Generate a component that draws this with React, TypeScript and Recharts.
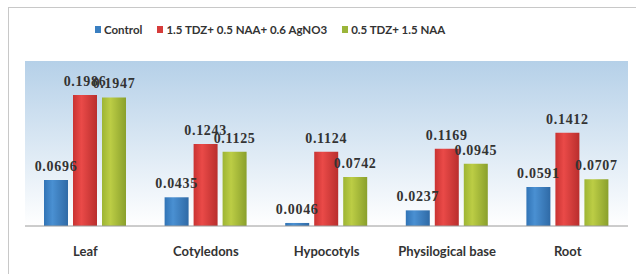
import { BarChart, Bar, XAxis, YAxis, LabelList, ReferenceArea } from 'recharts'

const categories = ['Leaf', 'Cotyledons', 'Hypocotyls', 'Physilogical base', 'Root']
const control = [0.0696, 0.0435, 0.0046, 0.0237, 0.0591]
const agno3 = [0.1986, 0.1243, 0.1124, 0.1169, 0.1412]
const tdzNaa = [0.1947, 0.1125, 0.0742, 0.0945, 0.0707]

const seriesNames = ['Control', '1.5 TDZ+ 0.5 NAA+ 0.6 AgNO3', '0.5 TDZ+ 1.5 NAA']

const data = categories.map((name, i) => ({
  name,
  control: control[i],
  agno3: agno3[i],
  tdzNaa: tdzNaa[i],
}))

const labelFont = { fontFamily: '"Liberation Serif", serif', fontSize: 14, fontWeight: 700, fill: '#333', letterSpacing: 0.7 }
const sans = 'Lato, "Open Sans", sans-serif'

function LegendBox() {
  const items = [
    { name: seriesNames[0], color: '#3a7fc1' },
    { name: seriesNames[1], color: '#d63c3b' },
    { name: seriesNames[2], color: '#9bb53a' },
  ]
  return (
    <div style={{ display: 'flex', gap: 15, fontFamily: sans, fontSize: 11.5, fontWeight: 700, color: '#333' }}>
      {items.map(it => (
        <span key={it.name} style={{ display: 'flex', alignItems: 'center' }}>
          <span style={{ width: 6, height: 7, background: it.color, marginRight: 3, display: 'inline-block' }} />
          {it.name}
        </span>
      ))}
    </div>
  )
}

export default function App() {
  return (
    <div style={{ position: 'fixed', left: 0, top: 0, width: 636, height: 274, background: '#fff', overflow: 'hidden' }}>
      <div style={{ position: 'absolute', left: 8, top: 7, width: 700, height: 400, border: '1px solid #c8c8c8' }} />
      <div style={{ position: 'absolute', left: 95, top: 23 }}>
        <LegendBox />
      </div>
      <div style={{ position: 'absolute', left: 0, top: 0 }}>
        <BarChart
          width={636}
          height={274}
          data={data}
          margin={{ top: 61, right: 8, left: 25, bottom: 18 }}
          barCategoryGap={18}
          barGap={5}
        >
          <defs>
            <linearGradient id="bg" x1="0" y1="0" x2="0" y2="1">
              <stop offset="0%" stopColor="#b5d0e8" />
              <stop offset="100%" stopColor="#ffffff" />
            </linearGradient>
            <linearGradient id="gBlue" x1="0" y1="0" x2="1" y2="0">
              <stop offset="0%" stopColor="#3174b6" />
              <stop offset="35%" stopColor="#4a90d2" />
              <stop offset="100%" stopColor="#2f6aa6" />
            </linearGradient>
            <linearGradient id="gRed" x1="0" y1="0" x2="1" y2="0">
              <stop offset="0%" stopColor="#c93332" />
              <stop offset="35%" stopColor="#ea4a48" />
              <stop offset="100%" stopColor="#b92e2d" />
            </linearGradient>
            <linearGradient id="gGreen" x1="0" y1="0" x2="1" y2="0">
              <stop offset="0%" stopColor="#9db534" />
              <stop offset="35%" stopColor="#bccd45" />
              <stop offset="100%" stopColor="#8aa02c" />
            </linearGradient>
          </defs>
          <YAxis hide domain={[0, 0.25]} />
          <ReferenceArea y1={0} y2={0.25} fill="url(#bg)" fillOpacity={1} stroke="none" ifOverflow="visible" />
          <XAxis
            dataKey="name"
            axisLine={{ stroke: '#9a9a9a', strokeWidth: 1 }}
            tickLine={false}
            tick={{ fontFamily: sans, fontSize: 13, fontWeight: 700, fill: '#333' }}
            dy={13}
          />
          <Bar dataKey="control" name={seriesNames[0]} fill="url(#gBlue)" barSize={24} isAnimationActive={false}>
            <LabelList dataKey="control" position="top" offset={9} style={labelFont} />
          </Bar>
          <Bar dataKey="agno3" name={seriesNames[1]} fill="url(#gRed)" barSize={24} isAnimationActive={false}>
            <LabelList dataKey="agno3" position="top" offset={9} style={labelFont} />
          </Bar>
          <Bar dataKey="tdzNaa" name={seriesNames[2]} fill="url(#gGreen)" barSize={24} isAnimationActive={false}>
            <LabelList dataKey="tdzNaa" position="top" offset={9} style={labelFont} />
          </Bar>
        </BarChart>
      </div>
    </div>
  )
}
